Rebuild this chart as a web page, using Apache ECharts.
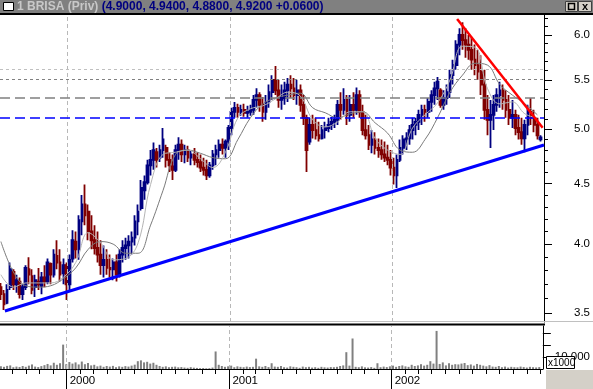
<!DOCTYPE html>
<html><head><meta charset="utf-8">
<script src="https://cdn.jsdelivr.net/npm/echarts@6/dist/echarts.min.js"></script>
<style>html,body{margin:0;padding:0;background:#fff}#c{width:593px;height:389px}</style>
</head><body><div id="c"></div>
<script>
// ---- data (weekly bars, first week ending 1999-08-06) ----
const firstWeek = [1999, 7, 6];
const openP = [3.68,3.63,3.57,3.68,3.79,3.70,3.72,3.63,3.68,3.81,
3.76,3.68,3.72,3.69,3.75,3.72,3.85,3.77,3.91,3.86,
3.78,3.84,3.70,3.89,4.02,3.96,4.18,4.32,4.26,4.10,
4.03,3.97,3.92,3.84,3.88,3.82,3.81,3.86,3.77,3.92,
3.97,3.99,4.02,4.05,4.18,4.29,4.44,4.51,4.66,4.71,
4.78,4.73,4.80,4.82,4.71,4.65,4.62,4.80,4.85,4.76,
4.80,4.73,4.76,4.71,4.69,4.64,4.62,4.57,4.66,4.76,
4.80,4.85,4.82,4.88,5.01,5.17,5.21,5.17,5.19,5.16,
5.17,5.19,5.29,5.34,5.24,5.17,5.27,5.37,5.50,5.39,
5.29,5.31,5.39,5.45,5.41,5.34,5.39,5.24,5.11,4.88,
5.04,4.99,4.94,4.91,4.99,5.01,5.04,5.07,5.09,5.24,
5.19,5.29,5.14,5.24,5.19,5.34,5.17,4.99,4.94,4.85,
4.90,4.82,4.80,4.76,4.73,4.71,4.64,4.57,4.71,4.82,
4.90,4.91,4.99,5.04,5.07,5.14,5.19,5.17,5.27,5.34,
5.41,5.39,5.24,5.31,5.37,5.55,5.66,5.89,6.00,5.94,
5.89,5.83,5.72,5.66,5.59,5.45,5.19,5.09,5.14,5.24,
5.34,5.39,5.29,5.19,5.11,5.14,5.01,4.97,4.91,5.04,
5.17,5.11,5.04,4.90];
const highP = [3.71,3.66,3.70,3.86,3.81,3.77,3.75,3.70,3.84,3.90,
3.81,3.77,3.82,3.79,3.84,3.89,3.86,3.96,4.03,3.96,
3.89,3.86,3.92,4.11,4.10,4.23,4.40,4.49,4.32,4.23,
4.15,4.10,4.03,3.99,3.96,3.92,3.89,3.92,3.96,4.03,
4.05,4.07,4.10,4.23,4.32,4.53,4.57,4.71,4.80,4.87,
4.82,4.85,5.01,4.85,4.78,4.76,4.85,4.92,4.90,4.85,
4.84,4.80,4.82,4.78,4.76,4.73,4.71,4.69,4.80,4.85,
4.90,4.91,4.90,5.04,5.21,5.27,5.25,5.24,5.25,5.23,
5.24,5.34,5.41,5.37,5.32,5.34,5.45,5.55,5.65,5.50,
5.45,5.48,5.52,5.55,5.52,5.50,5.45,5.34,5.14,5.11,
5.14,5.11,5.07,5.04,5.07,5.11,5.12,5.14,5.29,5.37,
5.41,5.34,5.34,5.37,5.42,5.39,5.24,5.14,5.04,4.99,
4.97,4.91,4.90,4.88,4.85,4.80,4.73,4.76,4.90,4.94,
4.97,5.04,5.11,5.11,5.19,5.24,5.24,5.31,5.39,5.48,
5.53,5.41,5.39,5.45,5.61,5.72,5.94,6.08,6.15,6.08,
6.00,5.97,5.89,5.83,5.77,5.61,5.34,5.29,5.34,5.41,
5.48,5.45,5.39,5.34,5.29,5.19,5.14,5.11,5.09,5.24,
5.31,5.19,5.11,4.94];
const lowP = [3.59,3.52,3.56,3.66,3.66,3.64,3.60,3.59,3.66,3.70,
3.63,3.61,3.66,3.63,3.68,3.70,3.70,3.75,3.81,3.72,
3.70,3.59,3.66,3.86,3.89,3.88,4.07,4.15,4.03,3.96,
3.92,3.86,3.77,3.75,3.77,3.75,3.73,3.72,3.75,3.86,
3.88,3.89,3.92,3.99,4.07,4.27,4.36,4.49,4.57,4.62,
4.64,4.69,4.73,4.64,4.60,4.53,4.60,4.71,4.69,4.68,
4.69,4.66,4.66,4.64,4.60,4.57,4.53,4.55,4.62,4.66,
4.73,4.76,4.73,4.80,4.94,5.11,5.11,5.13,5.12,5.11,
5.13,5.14,5.21,5.17,5.07,5.09,5.21,5.29,5.34,5.21,
5.19,5.24,5.27,5.31,5.29,5.24,5.17,5.04,4.60,4.85,
4.91,4.90,4.88,4.90,4.91,4.97,4.99,5.01,5.04,5.09,
5.14,5.04,5.07,5.11,5.14,5.11,4.94,4.90,4.80,4.77,
4.76,4.73,4.71,4.69,4.66,4.57,4.49,4.46,4.69,4.76,
4.80,4.85,4.90,4.94,4.99,5.04,5.07,5.11,5.17,5.24,
5.29,5.21,5.19,5.24,5.31,5.45,5.61,5.77,5.83,5.74,
5.72,5.61,5.55,5.50,5.34,5.09,4.94,4.82,4.99,5.17,
5.21,5.19,5.11,5.04,5.01,4.94,4.90,4.85,4.78,4.94,
5.04,4.97,4.90,4.88];
const closeP = [3.63,3.56,3.66,3.81,3.70,3.73,3.63,3.68,3.82,3.77,
3.66,3.73,3.70,3.75,3.72,3.86,3.77,3.92,3.86,3.77,
3.84,3.70,3.88,4.03,3.96,4.19,4.32,4.23,4.10,4.03,
3.97,3.92,3.84,3.88,3.82,3.81,3.86,3.77,3.92,3.97,
3.99,4.02,4.05,4.18,4.26,4.46,4.51,4.66,4.71,4.80,
4.71,4.80,4.90,4.71,4.66,4.62,4.80,4.85,4.76,4.80,
4.73,4.76,4.71,4.69,4.64,4.62,4.57,4.66,4.76,4.80,
4.85,4.82,4.88,5.01,5.17,5.21,5.17,5.19,5.16,5.17,
5.19,5.29,5.34,5.24,5.17,5.27,5.37,5.50,5.39,5.29,
5.31,5.39,5.45,5.41,5.34,5.39,5.24,5.11,4.80,5.04,
4.99,4.94,4.91,4.99,5.01,5.04,5.07,5.09,5.24,5.19,
5.29,5.14,5.24,5.19,5.34,5.17,4.99,4.94,4.85,4.90,
4.82,4.80,4.76,4.73,4.71,4.64,4.57,4.71,4.82,4.90,
4.91,4.99,5.04,5.07,5.14,5.19,5.17,5.27,5.34,5.41,
5.48,5.24,5.31,5.37,5.55,5.66,5.89,6.00,5.94,5.89,
5.83,5.72,5.66,5.59,5.45,5.19,5.09,5.14,5.24,5.34,
5.39,5.29,5.19,5.11,5.14,5.01,4.97,4.91,5.04,5.17,
5.11,5.04,4.94,4.92];
const volume = [2200,1800,2600,3000,1500,2000,1700,2500,1800,2800,
3800,2000,1600,2400,3200,4200,3000,5200,3500,4800,
20300,4000,5800,4500,5500,3800,6200,4000,5000,3000,
3500,2200,2800,1800,2500,2000,2600,1500,2200,1800,
2400,2000,2800,3600,6500,7200,5500,6000,4500,5200,
3500,2500,1800,2200,1500,1800,2000,1400,1600,1200,
1000,1500,1100,900,700,800,600,700,1200,14600,
3500,2500,1800,2200,2800,1500,2200,1800,1500,2000,
1600,1800,8600,2200,1800,2500,1600,4800,2000,1800,
2500,1500,1200,2200,1800,1500,1000,2000,1500,1800,
1200,1500,1000,1800,1400,1200,1600,1500,1800,2500,
3000,14000,2800,25400,1800,1500,2200,1400,1200,1600,
1000,4800,1500,2000,1600,2200,2800,1800,2500,3000,
2200,1800,3500,2500,3000,4000,2800,3500,6500,4500,
31700,4200,5500,3000,4800,3500,4000,3800,4500,5000,
3200,3800,2800,4200,3500,2800,2200,3200,2000,1800,
2500,1500,2000,1200,1800,1500,1400,2000,1600,1200,
1800,1500,1300,1600];
// moving averages read every 4th week
const maFast = [3.77,3.68,3.71,3.71,3.71,3.75,3.86,4.09,4.01,3.88,
3.89,4.01,4.49,4.76,4.78,4.80,4.72,4.64,4.78,5.11,
5.20,5.23,5.30,5.37,5.33,5.09,5.02,5.07,5.17,5.17,
4.91,4.80,4.76,5.01,5.14,5.26,5.50,5.87,5.86,5.41,
5.25,5.27,5.15,5.11];
const maSlow = [4.02,3.79,3.69,3.68,3.69,3.74,3.82,3.96,4.02,4.00,
3.93,3.93,4.15,4.44,4.76,4.80,4.77,4.73,4.72,4.90,
5.11,5.25,5.31,5.34,5.36,5.21,5.16,5.11,5.15,5.17,
5.06,4.96,4.80,4.78,4.90,5.11,5.37,5.55,5.68,5.66,
5.45,5.34,5.25,5.14];
const maStep = 4;
// horizontal reference levels
const levelLight = 5.606, levelDark = 5.51, levelGray = 5.31, levelBlue = 5.108;
// trend lines
const supportLine = [['1999-08-15', 3.514], ['2002-12-07', 4.848]];
const resistLine = [['2002-05-26', 6.189], ['2002-12-04', 5.013]];
// axes
const xStart = '1999-08-04', xEnd = '2002-12-07';
const priceMin = 3.4395, priceMax = 6.237;
const priceLabels = [3.5, 4.0, 4.5, 5.0, 5.5, 6.0];
const priceMinor = [3.5,3.6,3.7,3.8,3.9,4.0,4.1,4.2,4.3,4.4,4.5,4.6,4.7,4.8,4.9,5.0,5.1,5.2,5.3,5.4,5.5,5.6,5.7,5.8,5.9,6.0,6.1,6.2];
const yearTicks = ['2000-01-01', '2001-01-01', '2002-01-01'];
const volTicks = [10000, 20000, 30000];
const volLabels = [10000];
const volMax = 35800;
const titleName = '1 BRISA (Priv)';
const titleQuote = '(4.9000, 4.9400, 4.8800, 4.9200 +0.0600)';

// ---- build ----
function weekTime(i){ return new Date(firstWeek[0], firstWeek[1], firstWeek[2] + 7*i).getTime(); }
function ts(s){ const p = s.split('-').map(Number); return new Date(p[0], p[1]-1, p[2]).getTime(); }
const candles = openP.map((o, i) => [weekTime(i), o, closeP[i], lowP[i], highP[i]]);
const vols = volume.map((v, i) => [weekTime(i), v]);
const fastData = maFast.map((v, k) => [weekTime(k*maStep), v]);
const slowData = maSlow.map((v, k) => [weekTime(k*maStep), v]);
const monthTicks = [];
for (let y = 1999; y <= 2002; y++) for (let m = 0; m < 12; m++) {
  const t = new Date(y, m, 1).getTime();
  if (t >= ts(xStart) && t <= ts(xEnd)) monthTicks.push(t);
}
const yearT = yearTicks.map(ts);
const FONT = 'Liberation Sans';
const yearMark = {
  silent: true, symbol: 'none', animation: false,
  label: {show: false},
  lineStyle: {color: '#b8b8b8', type: [4, 3], width: 1},
  data: yearT.map(t => ({xAxis: t}))
};

const chart = echarts.init(document.getElementById('c'), null, {renderer: 'canvas'});
chart.setOption({
  animation: false,
  backgroundColor: '#fff',
  grid: [
    {left: 0, right: 49, top: 15, height: 307},
    {left: 0, right: 49, top: 326, height: 43}
  ],
  xAxis: [
    {type: 'value', gridIndex: 0, min: ts(xStart), max: ts(xEnd), show: false, splitLine: {show: false}},
    {type: 'value', gridIndex: 1, min: ts(xStart), max: ts(xEnd), position: 'bottom',
      axisLine: {show: true, onZero: false, lineStyle: {color: '#000', width: 1}},
      axisTick: {show: true, customValues: monthTicks, length: 5, lineStyle: {color: '#000'}},
      axisLabel: {show: true, customValues: yearT, formatter: v => String(new Date(v).getFullYear()),
        align: 'left', margin: 6, padding: [0, 0, 0, 3], color: '#000', fontSize: 11.5, fontFamily: FONT},
      splitLine: {show: false}},
    {type: 'value', gridIndex: 1, min: ts(xStart), max: ts(xEnd), position: 'bottom',
      axisLine: {show: false, onZero: false},
      axisTick: {show: true, customValues: yearT, length: 20, lineStyle: {color: '#000'}},
      axisLabel: {show: false}, splitLine: {show: false}}
  ],
  yAxis: [
    {type: 'log', gridIndex: 0, min: priceMin, max: priceMax, position: 'right',
      axisLine: {show: true, lineStyle: {color: '#000'}},
      axisTick: {show: true, customValues: priceMinor, length: 4, lineStyle: {color: '#000'}},
      axisLabel: {show: false}, splitLine: {show: false}},
    {type: 'log', gridIndex: 0, min: priceMin, max: priceMax, position: 'right',
      axisLine: {show: false},
      axisTick: {show: true, customValues: priceLabels, length: 8, lineStyle: {color: '#000'}},
      axisLabel: {show: true, customValues: priceLabels, formatter: v => Number(v).toFixed(1),
        margin: 30, color: '#000', fontSize: 11.5, fontFamily: FONT},
      splitLine: {show: false}},
    {type: 'value', gridIndex: 1, min: 0, max: volMax, position: 'right',
      axisLine: {show: true, lineStyle: {color: '#000'}},
      axisTick: {show: true, customValues: volTicks, length: 8, lineStyle: {color: '#000'}},
      axisLabel: {show: true, customValues: volLabels, margin: 12, color: '#000', fontSize: 11.5, fontFamily: FONT},
      splitLine: {show: false}}
  ],
  series: [
    {type: 'candlestick', xAxisIndex: 0, yAxisIndex: 0, data: candles, barWidth: 2.2,
      itemStyle: {color: '#000080', color0: '#800000', borderColor: '#000080', borderColor0: '#800000', borderWidth: 1.8},
      emphasis: {disabled: true}, silent: true,
      markLine: Object.assign({}, yearMark, {
        data: yearT.map(t => ({xAxis: t})).concat([
          {yAxis: levelLight, lineStyle: {color: '#c0c0c0', type: [3, 3], width: 1}},
          {yAxis: levelDark, lineStyle: {color: '#808080', type: [3, 3], width: 1}},
          {yAxis: levelGray, lineStyle: {color: '#808080', type: [10, 5], width: 1.5}},
          {yAxis: levelBlue, lineStyle: {color: '#0000ff', type: [10, 5], width: 1.5}}
        ])
      }),
      z: 3},
    {type: 'line', xAxisIndex: 0, yAxisIndex: 0, data: slowData, showSymbol: false, smooth: 0.4,
      lineStyle: {color: '#7a7a7a', width: 1}, silent: true, z: 4},
    {type: 'line', xAxisIndex: 0, yAxisIndex: 0, data: fastData, showSymbol: false, smooth: 0.4,
      lineStyle: {color: '#b4b4b4', width: 1}, silent: true, z: 4},
    {type: 'line', xAxisIndex: 0, yAxisIndex: 0, data: supportLine.map(p => [ts(p[0]), p[1]]), showSymbol: false,
      lineStyle: {color: '#0000ff', width: 3}, silent: true, z: 5},
    {type: 'line', xAxisIndex: 0, yAxisIndex: 0, data: resistLine.map(p => [ts(p[0]), p[1]]), showSymbol: false,
      lineStyle: {color: '#ff0000', width: 2.5}, silent: true, z: 5},
    {type: 'bar', xAxisIndex: 1, yAxisIndex: 2, data: vols, barWidth: 2,
      itemStyle: {color: '#808080'}, silent: true, markLine: yearMark}
  ],
  graphic: [
    {type: 'rect', shape: {x: 0, y: 0, width: 593, height: 13}, style: {fill: '#808080'}, z: 100},
    {type: 'rect', shape: {x: 0, y: 13, width: 593, height: 2}, style: {fill: '#000'}, z: 100},
    {type: 'rect', shape: {x: 3.5, y: 2.5, width: 10, height: 8}, style: {fill: '#fff', stroke: '#000', lineWidth: 1}, z: 101},
    {type: 'text', x: 17, y: 7, z: 101, style: {
      text: '{a|' + titleName + '} {b|' + titleQuote + '}',
      verticalAlign: 'middle', font: 'bold 12px ' + FONT,
      rich: {a: {fill: '#c8c8c8', font: 'bold 12px ' + FONT}, b: {fill: '#000080', font: 'bold 12px ' + FONT}}}},
    {type: 'rect', shape: {x: 565.5, y: 1.5, width: 12, height: 10}, style: {fill: '#d4d0c8', stroke: '#404040', lineWidth: 1}, z: 101},
    {type: 'rect', shape: {x: 568.5, y: 3.5, width: 6, height: 6}, style: {fill: 'none', stroke: '#000', lineWidth: 1.5}, z: 102},
    {type: 'rect', shape: {x: 578.5, y: 1.5, width: 13, height: 10}, style: {fill: '#d4d0c8', stroke: '#404040', lineWidth: 1}, z: 101},
    {type: 'text', x: 585, y: 7, z: 102, style: {text: 'x', align: 'center', verticalAlign: 'middle', font: 'bold 11px ' + FONT, fill: '#000'}},
    {type: 'rect', shape: {x: 0, y: 321, width: 593, height: 1}, style: {fill: '#c0c0c0'}, z: 100},
    {type: 'rect', shape: {x: 0, y: 323.5, width: 545, height: 2}, style: {fill: '#000'}, z: 100},
    {type: 'rect', shape: {x: 546, y: 370, width: 47, height: 19}, style: {fill: '#d4d0c8'}, z: 100},
    {type: 'rect', shape: {x: 546.5, y: 356.5, width: 28, height: 12}, style: {fill: '#fff', stroke: '#000', lineWidth: 1}, z: 100},
    {type: 'text', x: 548, y: 363, z: 101, style: {text: 'x1000', verticalAlign: 'middle', font: '10px ' + FONT, fill: '#000'}}
  ]
});
</script></body></html>
